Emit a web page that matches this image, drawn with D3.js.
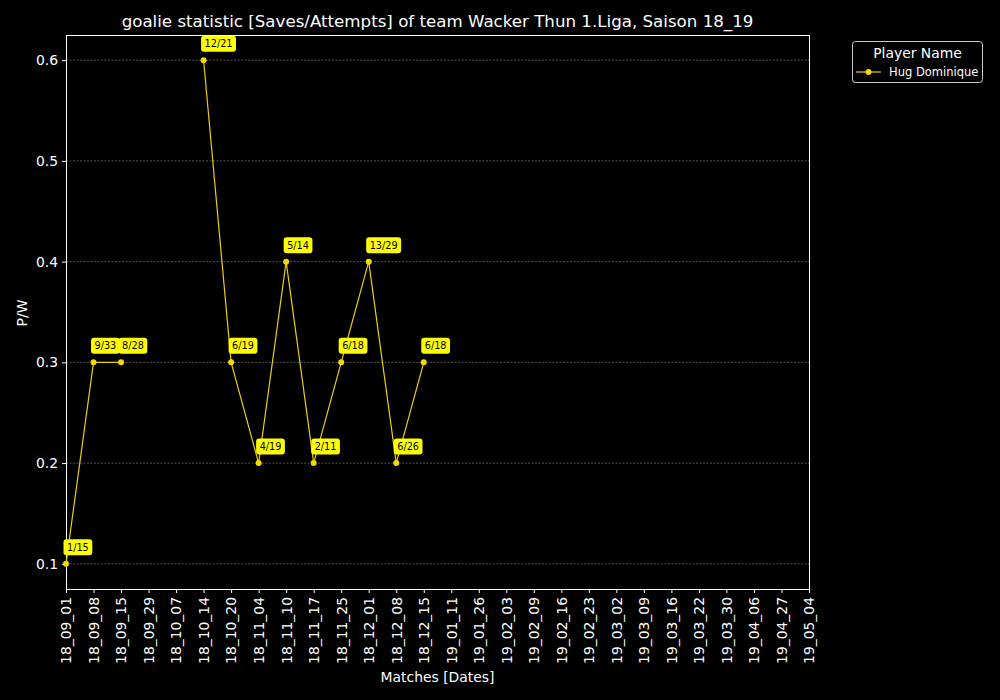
<!DOCTYPE html>
<html><head><meta charset="utf-8">
<script src="https://cdn.jsdelivr.net/npm/d3@7"></script>
<style>body{margin:0;background:#000;} svg{display:block;font-family:"DejaVu Sans",sans-serif;}</style>
</head><body>
<svg id="c" width="1000" height="700"></svg>
<script>
const dates = ["18_09_01","18_09_08","18_09_15","18_09_29","18_10_07","18_10_14","18_10_20","18_11_04","18_11_10","18_11_17","18_11_25","18_12_01","18_12_08","18_12_15","19_01_11","19_01_26","19_02_03","19_02_09","19_02_16","19_02_23","19_03_02","19_03_09","19_03_16","19_03_22","19_03_30","19_04_06","19_04_27","19_05_04"];
const ratio = [0.1,0.3,0.3,null,null,0.6,0.3,0.2,0.4,0.2,0.3,0.4,0.2,0.3,null,null,null,null,null,null,null,null,null,null,null,null,null,null];
const labels = ["1/15","9/33","8/28",null,null,"12/21","6/19","4/19","5/14","2/11","6/18","13/29","6/26","6/18",null,null,null,null,null,null,null,null,null,null,null,null,null,null];
const yTicks = [0.1,0.2,0.3,0.4,0.5,0.6];
const seriesName = "Hug Dominique";

const svg = d3.select("#c");
const L=66,R=809,T=35,B=589;
const x = d3.scalePoint().domain(dates).range([L,R]);
const y = d3.scaleLinear().domain([0.075,0.625]).range([B,T]);
const lineCol="#e8d010", ptCol="#f5d800";

// grid
svg.append("g").selectAll("line").data(yTicks).join("line")
  .attr("x1",L).attr("x2",R).attr("y1",d=>y(d)).attr("y2",d=>y(d))
  .attr("stroke","#888").attr("stroke-width",0.6).attr("stroke-dasharray","2,1.5");

// frame
svg.append("rect").attr("x",L+0.5).attr("y",T+0.5).attr("width",R-L).attr("height",B-T)
  .attr("fill","none").attr("stroke","#fff").attr("stroke-width",1).attr("shape-rendering","crispEdges");

// axes
const ya = svg.append("g").attr("transform",`translate(${L},0)`)
  .call(d3.axisLeft(y).tickValues(yTicks).tickSize(4).tickPadding(4).tickFormat(d3.format(".1f")));
const xa = svg.append("g").attr("transform",`translate(0,${B})`)
  .call(d3.axisBottom(x).tickSize(4).tickPadding(4));
[ya,xa].forEach(a=>{a.select(".domain").remove();a.selectAll("line").attr("stroke","#fff");
  a.selectAll("text").attr("fill","#fff").attr("font-size","13.9px").attr("font-family","DejaVu Sans");});
xa.selectAll("text").attr("transform","rotate(-90)").attr("text-anchor","end")
  .attr("x",-8).attr("y",0).attr("dy","0.35em");

// line with gaps
const pts = dates.map((d,i)=>({d,v:ratio[i],l:labels[i]}));
svg.append("path").datum(pts)
  .attr("d",d3.line().defined(p=>p.v!==null).x(p=>x(p.d)).y(p=>y(p.v)))
  .attr("fill","none").attr("stroke",lineCol).attr("stroke-width",1.2);
const valid = pts.filter(p=>p.v!==null);
svg.append("g").selectAll("circle").data(valid).join("circle")
  .attr("cx",p=>x(p.d)).attr("cy",p=>y(p.v)).attr("r",3).attr("fill",ptCol);

// labels
const lg = svg.append("g").selectAll("g").data(valid).join("g")
  .attr("transform",p=>`translate(${x(p.d)+1},${y(p.v)-16.5})`);
lg.each(function(p){
  const g=d3.select(this);
  const t=g.append("text").text(p.l).attr("font-size","9.7px").attr("fill","#000")
    .attr("dy","0.35em").attr("font-family","DejaVu Sans");
  const w=t.node().getComputedTextLength();
  g.insert("rect","text").attr("x",-3.5).attr("y",-8).attr("width",w+7).attr("height",16)
    .attr("rx",3).attr("fill","#ffff00");
});

// titles
svg.append("text").attr("x",437.5).attr("y",27).attr("text-anchor","middle")
  .attr("fill","#fff").attr("font-size","16.67px")
  .text("goalie statistic [Saves/Attempts] of team Wacker Thun 1.Liga, Saison 18_19");
svg.append("text").attr("x",437.5).attr("y",682).attr("text-anchor","middle")
  .attr("fill","#fff").attr("font-size","13.9px").text("Matches [Dates]");
svg.append("text").attr("transform","translate(27,313) rotate(-90)").attr("text-anchor","middle")
  .attr("fill","#fff").attr("font-size","13.9px").text("P/W");

// legend
const leg = svg.append("g");
leg.append("rect").attr("x",852.5).attr("y",41.5).attr("width",130).attr("height",41)
  .attr("rx",3).attr("fill","#000").attr("stroke","#ccc").attr("stroke-width",1);
leg.append("text").attr("x",917.5).attr("y",58).attr("text-anchor","middle")
  .attr("fill","#fff").attr("font-size","13.9px").text("Player Name");
leg.append("line").attr("x1",856).attr("x2",881).attr("y1",72).attr("y2",72)
  .attr("stroke",lineCol).attr("stroke-width",1.2);
leg.append("circle").attr("cx",868.5).attr("cy",72).attr("r",3).attr("fill",ptCol);
leg.append("text").attr("x",889).attr("y",72).attr("dy","0.35em")
  .attr("fill","#fff").attr("font-size","11.5px").text(seriesName);
</script>
</body></html>
